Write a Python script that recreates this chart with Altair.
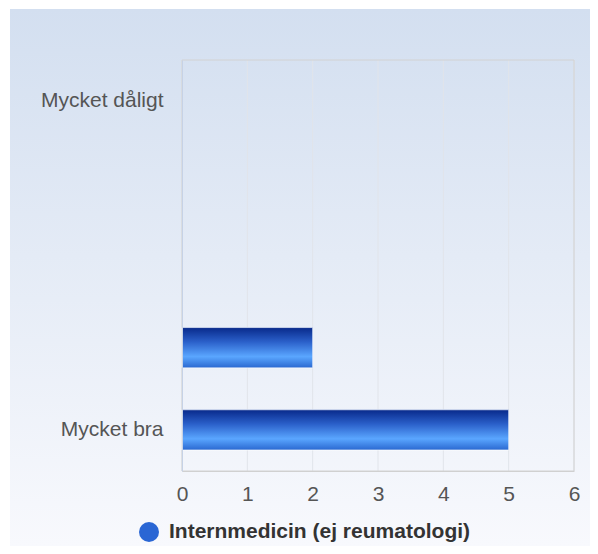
import altair as alt
import pandas as pd

categories = ["Mycket dåligt", "Ganska dåligt", "Varken bra eller dåligt", "Ganska bra", "Mycket bra"]
values = [0, 0, 0, 2, 5]
series_name = "Internmedicin (ej reumatologi)"
x_ticks = [0, 1, 2, 3, 4, 5, 6]
shown_labels = ["Mycket dåligt", "Mycket bra"]

FONT = "Liberation Sans"

df = pd.DataFrame({"kategori": categories, "antal": values, "serie": [series_name] * len(categories)})
ticks_df = pd.DataFrame({"t": x_ticks})
one_df = pd.DataFrame({"bg": [0]})

bar_grad = {
    "gradient": "linear", "x1": 0, "y1": 0, "x2": 0, "y2": 1,
    "stops": [
        {"offset": 0.0, "color": "#08298a"},
        {"offset": 0.35, "color": "#2a5fc9"},
        {"offset": 0.72, "color": "#5aa6ff"},
        {"offset": 1.0, "color": "#2a68d0"},
    ],
}
bg_grad = {
    "gradient": "linear", "x1": 0, "y1": 0, "x2": 0, "y2": 1,
    "stops": [
        {"offset": 0.0, "color": "#d3dff0"},
        {"offset": 1.0, "color": "#f8f9fd"},
    ],
}

x_scale = alt.Scale(domain=[0, 6], nice=False)
y_scale = alt.Scale(domain=categories, paddingInner=0.51, paddingOuter=0.255)
label_list = "[" + ",".join("'" + s + "'" for s in shown_labels) + "]"

x_axis = alt.Axis(values=x_ticks, grid=False, ticks=False, labelFontSize=21,
                  labelColor="#555555", labelPadding=12, domainColor="#d0d0d0",
                  title=None, zindex=1, labelFont=FONT, labelFlush=False)
y_axis = alt.Axis(title=None, ticks=False, labelFontSize=21, labelColor="#555555",
                  labelPadding=19, domainColor="#c6d2e6", zindex=1, labelFont=FONT,
                  labelExpr="indexof(" + label_list + ", datum.value) >= 0 ? datum.label : ''")

bg = alt.Chart(one_df).mark_rect(fill=bg_grad).encode(
    x=alt.value(-172), x2=alt.value(408), y=alt.value(-51), y2=alt.value(486)
)

frame = alt.Chart(one_df).mark_rect(fill=None, stroke="#d2d2d2", strokeWidth=1).encode(
    x=alt.value(0), x2=alt.value(392), y=alt.value(0), y2=alt.value(411)
)

grid = alt.Chart(ticks_df).mark_rule(color="#e1e4ea", strokeWidth=1).encode(
    x=alt.X("t:Q", scale=x_scale, axis=x_axis)
)

base = alt.Chart(df).transform_filter("datum.antal > 0")

bars_legend = base.mark_bar().encode(
    x=alt.X("antal:Q", scale=x_scale, axis=x_axis),
    y=alt.Y("kategori:N", sort=categories, scale=y_scale, axis=y_axis),
    color=alt.Color("serie:N", scale=alt.Scale(range=["#2a66d4"]),
                    legend=alt.Legend(title=None, orient="none", legendX=-44, legendY=461,
                                      symbolType="circle", symbolSize=400, labelFontSize=21,
                                      labelFontWeight="bold", labelColor="#333333",
                                      labelFont=FONT, labelOffset=9, labelLimit=500)),
)

bars_grad = base.mark_bar(fill=bar_grad, stroke="#ffffff", strokeOpacity=0.7, strokeWidth=1).encode(
    x=alt.X("antal:Q", scale=x_scale, axis=x_axis),
    y=alt.Y("kategori:N", sort=categories, scale=y_scale, axis=y_axis),
)

chart = alt.layer(bg, grid, frame, bars_legend, bars_grad).properties(
    width=392, height=411,
    autosize=alt.AutoSizeParams(type="none"),
    padding={"left": 174, "top": 52, "right": 16, "bottom": 75},
).configure_view(stroke=None).configure(font=FONT, background="white")

chart.save("out.html", embed_options={"renderer": "svg", "actions": False})
